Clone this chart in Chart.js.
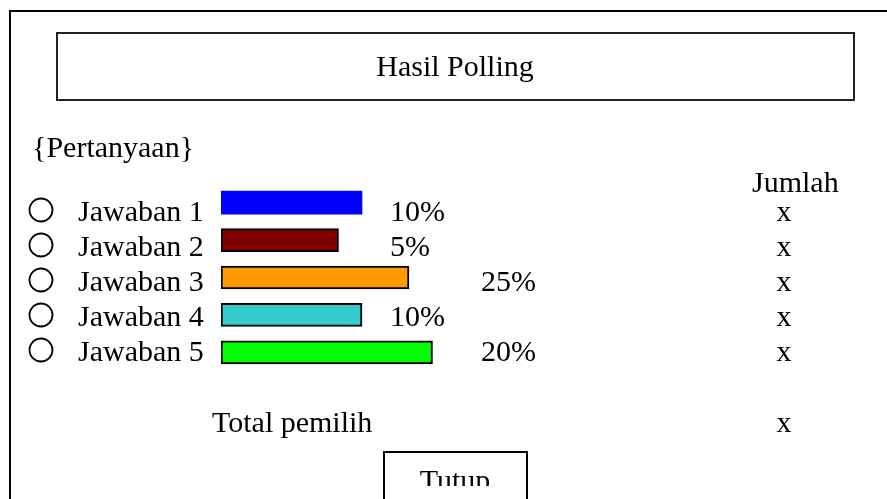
<!DOCTYPE html>
<html>
<head>
<meta charset="utf-8">
<script src="https://cdn.jsdelivr.net/npm/chart.js@4.4.1/dist/chart.umd.min.js"></script>
<style>
  html, body { margin: 0; padding: 0; background: #fff; }
  #wrap { position: relative; width: 887px; height: 499px; overflow: hidden; }
</style>
</head>
<body>
<div id="wrap"><canvas id="polling" width="887" height="499"></canvas></div>
<script>
// ---- Data polling ----
const jawaban = ['Jawaban 1', 'Jawaban 2', 'Jawaban 3', 'Jawaban 4', 'Jawaban 5'];
const panjangBatang = [6, 5, 8, 6, 9];
const persen = ['10%', '5%', '25%', '10%', '20%'];
const jumlah = ['x', 'x', 'x', 'x', 'x'];
const totalPemilih = 'x';
const warnaBatang = ['#0000ff', '#800000', '#ff9900', '#33cccc', '#00ff00'];
const garisBatang = [0, 2, 2, 2, 2];

const FONT = '30px "Liberation Serif", "Times New Roman", serif';

// gambar form di sekeliling grafik
const formPlugin = {
    id: 'formPolling',
    beforeDraw(chart) {
        const ctx = chart.ctx;
        ctx.save();
        ctx.fillStyle = '#fff';
        ctx.fillRect(0, 0, chart.width, chart.height);
        ctx.restore();
    },
    afterDraw(chart) {
        const ctx = chart.ctx;
        const xScale = chart.scales.x;
        ctx.save();
        ctx.strokeStyle = '#000';
        ctx.fillStyle = '#000';
        ctx.font = FONT;

        // bingkai luar
        ctx.lineWidth = 2;
        ctx.beginPath();
        ctx.moveTo(10, 499);
        ctx.lineTo(10, 11);
        ctx.lineTo(887, 11);
        ctx.stroke();

        // kotak judul
        ctx.strokeStyle = '#222';
        ctx.strokeRect(57, 33, 797, 67);
        ctx.textAlign = 'center';
        ctx.fillText('Hasil Polling', 455, 76);

        ctx.textAlign = 'left';
        ctx.fillText('{Pertanyaan}', 32, 157);
        ctx.fillText('Jumlah', 752, 192);

        // baris jawaban
        const tabStop = [390, 481];
        jawaban.forEach((label, i) => {
            const base = 221 + i * 35;
            ctx.lineWidth = 1.8;
            ctx.strokeStyle = '#000';
            ctx.beginPath();
            ctx.arc(41, base - 11, 11.5, 0, Math.PI * 2);
            ctx.stroke();
            ctx.textAlign = 'left';
            ctx.fillText(label, 78, base);
            const ujung = xScale.getPixelForValue(panjangBatang[i]) + 20;
            const xLabel = tabStop.find(t => t >= ujung) || ujung;
            ctx.fillText(persen[i], xLabel, base);
            ctx.textAlign = 'center';
            ctx.fillText(jumlah[i], 784, base);
        });

        ctx.textAlign = 'left';
        ctx.fillText('Total pemilih', 212, 432);
        ctx.textAlign = 'center';
        ctx.fillText(totalPemilih, 784, 432);

        // tombol tutup
        ctx.lineWidth = 2;
        ctx.beginPath();
        ctx.moveTo(384, 499);
        ctx.lineTo(384, 452);
        ctx.lineTo(527, 452);
        ctx.lineTo(527, 499);
        ctx.stroke();
        ctx.save();
        ctx.beginPath();
        ctx.rect(384, 452, 143, 34);
        ctx.clip();
        ctx.fillText('Tutup', 455, 490);
        ctx.restore();

        ctx.restore();
    }
};

new Chart(document.getElementById('polling'), {
    type: 'bar',
    data: {
        labels: jawaban,
        datasets: [{
            data: panjangBatang,
            backgroundColor: warnaBatang,
            borderColor: '#000',
            borderWidth: garisBatang,
            borderSkipped: false,
            barThickness: 23
        }]
    },
    options: {
        indexAxis: 'y',
        responsive: false,
        animation: false,
        events: [],
        layout: { padding: { left: 221, right: 196, top: 184, bottom: 128 } },
        scales: {
            x: { display: false, min: 0, max: 20 },
            y: { display: false }
        },
        plugins: { legend: { display: false }, tooltip: { enabled: false } }
    },
    plugins: [formPlugin]
});
</script>
</body>
</html>
